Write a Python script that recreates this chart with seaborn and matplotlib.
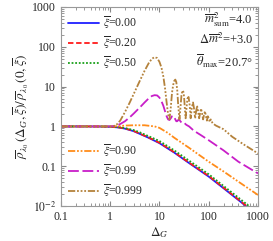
import numpy as np
import pandas as pd
import seaborn as sns
import matplotlib
matplotlib.use("Agg")
import matplotlib.pyplot as plt

# valores (Delta_G, razao)
d_base = [0.1, 0.3, 0.6, 1, 1.5, 2, 3, 4, 6, 10, 20, 40, 100, 200, 400, 1000]
r_000 = [1.0, 1.0, 0.995, 0.98, 0.94, 0.88, 0.76, 0.65, 0.52, 0.38, 0.22, 0.12, 0.055, 0.028, 0.0142, 0.0057]
r_020 = [1.0, 1.0, 0.996, 0.982, 0.945, 0.89, 0.77, 0.66, 0.53, 0.39, 0.225, 0.123, 0.057, 0.029, 0.0147, 0.0059]
r_050 = [1.0, 1.0, 0.998, 0.99, 0.96, 0.91, 0.81, 0.71, 0.57, 0.43, 0.25, 0.138, 0.063, 0.032, 0.0163, 0.0066]

d_090 = [0.1, 0.5, 1, 1.5, 2, 3, 5, 8, 10, 15, 20, 40, 100, 200, 400, 1000]
r_090 = [1.0, 1.0, 1.0, 1.02, 1.05, 1.07, 1.07, 1.0, 0.92, 0.68, 0.52, 0.29, 0.13, 0.074, 0.041, 0.019]

d_099 = [0.1, 0.5, 1, 1.3, 1.6, 2, 2.5, 3, 4, 5, 6, 7, 8, 9, 10, 11, 12, 13, 14, 15, 16,
         17, 18, 19, 20, 21, 22, 23, 24, 25, 26, 28, 30, 32, 35, 40, 50, 70, 100, 200, 400, 1000]
r_099 = [1.0, 1.0, 1.0, 1.03, 1.15, 1.35, 1.7, 2.1, 3.0, 4.0, 5.0, 5.8, 6.1, 6.0, 5.3, 4.3, 3.3, 2.4, 1.8, 1.5, 1.45,
         1.6, 1.8, 1.85, 1.7, 1.5, 1.35, 1.35, 1.45, 1.5, 1.4, 1.25, 1.2, 1.22, 1.1, 1.0, 0.78, 0.6, 0.45, 0.25, 0.13, 0.066]

d_0999 = [0.1, 0.5, 1, 1.3, 1.6, 2, 2.5, 3, 4, 5, 6, 7, 8, 9, 10, 11, 12, 13, 14, 15, 16,
          17, 18, 19, 20, 21, 22, 23, 24, 25.5, 27, 28, 29, 30, 31, 32, 33, 34,
          35.5, 37, 39, 41, 43, 45, 48, 50, 53, 55, 58, 61, 64, 67, 70, 74, 77, 80, 84, 88, 92,
          96, 100, 105, 110, 120, 140, 200, 300, 500, 1000]
r_0999 = [1.0, 1.0, 1.0, 1.05, 1.4, 2.3, 4.0, 6.5, 14, 25, 38, 50, 55, 52, 42, 30, 18, 9, 4, 2.0, 1.5,
          3.0, 7.0, 11, 14, 15, 13, 8, 3.5, 1.5, 3.5, 6.0, 7.5, 8.0, 7.0, 4.5, 2.5, 1.6,
          3.0, 5.0, 5.5, 3.5, 1.6, 2.8, 4.0, 3.0, 1.6, 2.2, 3.3, 2.4, 1.6, 2.2, 2.8, 2.0, 1.5, 1.9, 2.4, 1.8, 1.4,
          1.8, 1.6, 1.3, 1.5, 1.2, 1.05, 0.85, 0.55, 0.36, 0.21]

series = [
    (d_base, r_000, "#1f1fff", "-", r"$\overline{\xi}$=0.00"),
    (d_base, r_020, "#ff1a1a", (0, (3, 1.5)), r"$\overline{\xi}$=0.20"),
    (d_base, r_050, "#1aa01a", (0, (1, 1)), r"$\overline{\xi}$=0.50"),
    (d_090, r_090, "#ff8c1a", (0, (4, 1, 1, 1, 1, 1)), r"$\overline{\xi}$=0.90"),
    (d_099, r_099, "#c81ec8", (0, (6, 2)), r"$\overline{\xi}$=0.99"),
    (d_0999, r_0999, "#b4823c", (0, (4, 1, 1, 1, 1, 1, 1, 1)), r"$\overline{\xi}$=0.999"),
]

sns.set_style("ticks")
plt.rcParams['font.family'] = ['Liberation Serif', 'DejaVu Serif']
plt.rcParams['mathtext.fontset'] = 'stix'

fig = plt.figure(figsize=(2.73, 2.41), dpi=100)
ax = fig.add_axes([0.223, 0.145, 0.722, 0.826])

linhas = []
for x, y, cor, estilo, rot in series:
    df = pd.DataFrame({"d": x, "r": y})
    sns.lineplot(data=df, x="d", y="r", ax=ax, color=cor, linewidth=1.3, sort=False,
                 estimator=None, legend=False)
    l = ax.get_lines()[-1]
    l.set_linestyle(estilo)
    l.set_label(rot)
    linhas.append(l)

ax.set_xscale("log")
ax.set_yscale("log")
ax.set_xlim(0.1, 1000)
ax.set_ylim(0.01, 1000)
ax.set_xticks([0.1, 1, 10, 100, 1000])
ax.set_xticklabels(["0.1", "1", "10", "100", "1000"])
ax.set_yticks([0.01, 0.1, 1, 10, 100, 1000])
ax.set_yticklabels([r"$10^{-2}$", "0.1", "1", "10", "100", "1000"])
ax.tick_params(which="both", direction="in", top=True, right=True, labelsize=8.5, color="#888888")
ax.tick_params(which="major", length=3.5)
ax.tick_params(which="minor", length=2)
for s in ax.spines.values():
    s.set_color("#999999")
    s.set_linewidth(0.8)

ax.set_xlabel(r"$\Delta_G$", fontsize=9.5, labelpad=2)
ax.set_ylabel(r"$\overline{\rho}_{\lambda_0}\,(\Delta_G,\overline{\xi})/\,\overline{\rho}_{\lambda_0}\,(0,\overline{\xi})$",
              fontsize=9.5, labelpad=1)

leg1 = ax.legend(handles=linhas[:3], loc="upper left", frameon=False, fontsize=8.5,
                 handlelength=2.6, handletextpad=0.4, labelspacing=0.3, borderaxespad=0.2)
ax.add_artist(leg1)
ax.legend(handles=linhas[3:], loc="lower left", frameon=False, fontsize=8.5,
          handlelength=2.6, handletextpad=0.4, labelspacing=0.3, borderaxespad=0.2)

ax.text(0.975, 0.985, r"$\overline{m}^2_{\rm sum}$=4.0" + "\n" + r"$\Delta\overline{m}^2$=+3.0" + "\n"
        + r"$\overline{\theta}_{\rm max}$=20.7°",
        transform=ax.transAxes, ha="right", va="top", fontsize=9, linespacing=1.3)

fig.savefig("out.png", dpi=100)
